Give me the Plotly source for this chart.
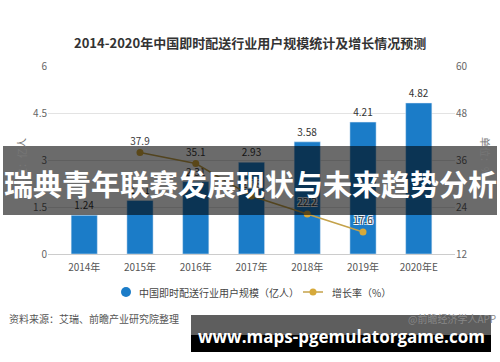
import plotly.graph_objects as go

# ---- data ----
years = ["2014年", "2015年", "2016年", "2017年", "2018年", "2019年", "2020年E"]
users = [1.24, 1.71, 2.31, 2.93, 3.58, 4.21, 4.82]
growth_years = ["2015年", "2016年", "2017年", "2018年", "2019年"]
growth = [37.9, 35.1, 26.8, 22.2, 17.6]
left_ticks = [0, 1.5, 3, 4.5, 6]
left_ticktext = ["0", "1.5", "3", "4.5", "6"]
right_ticks = [12, 24, 36, 48, 60]

title_text = "2014-2020年中国即时配送行业用户规模统计及增长情况预测"
bar_name = "中国即时配送行业用户规模（亿人）"
line_name = "增长率（%）"
source_text = "资料来源：艾瑞、前瞻产业研究院整理"
brand_text = "@前瞻经济学人APP"
overlay_text = "瑞典青年联赛发展现状与未来趋势分析"
url_text = "www.maps-pgemulatorgame.com"

W, H = 500, 362
L, R, T, B = 48, 45, 66, 108
PW, PH = W - L - R, H - T - B

def px(x):
    return (x - L) / PW

def py(y):
    return (H - B - y) / PH

FONT = "Noto Sans CJK SC, Noto Sans, sans-serif"
BAR_COLOR = "#1b7cc8"
LINE_COLOR = "#c4a24a"
MARK_COLOR = "#d6a93a"

fig = go.Figure()
fig.add_trace(go.Bar(
    x=years, y=users, width=0.47, marker_color=BAR_COLOR,
    text=[f"{v:.2f}" for v in users], textposition="outside",
    textfont=dict(size=10, color="#333333", family=FONT),
    cliponaxis=False, showlegend=False, hoverinfo="skip",
))
fig.add_trace(go.Scatter(
    x=growth_years, y=growth, yaxis="y2", mode="lines+markers+text",
    name=line_name, text=[f"{v:.1f}" for v in growth], textposition="top center",
    textfont=dict(size=10, color="#3a3a3a", family=FONT,
                  shadow="1px 1px 0 #fff, -1px -1px 0 #fff, 1px -1px 0 #fff, -1px 1px 0 #fff"),
    line=dict(color=LINE_COLOR, width=1.5),
    marker=dict(size=7, color=MARK_COLOR),
    cliponaxis=False, showlegend=False,
))

fig.update_layout(
    width=W, height=H, margin=dict(l=L, r=R, t=T, b=B),
    paper_bgcolor="white", plot_bgcolor="white",
    font=dict(family=FONT, size=10, color="#555555"),
    showlegend=False,
    xaxis=dict(type="category", range=[-0.65, 6.65], showgrid=False,
               showline=True, linecolor="#cccccc", linewidth=1, ticks="",
               ticklabelstandoff=4,
               tickfont=dict(size=10, color="#555555")),
    yaxis=dict(range=[0, 6], tickvals=left_ticks, ticktext=left_ticktext,
               showgrid=True, gridcolor="#e3e3e3", zeroline=False, ticks="",
               tickfont=dict(size=10, color="#666666")),
    yaxis2=dict(range=[12, 60], tickvals=right_ticks, overlaying="y", side="right",
                showgrid=False, zeroline=False, ticks="",
                tickfont=dict(size=10, color="#666666")),
)

def note(x, y, text, size=10, color="#555555", xa="center", ya="middle", angle=0, family=FONT):
    return dict(x=px(x), y=py(y), xref="paper", yref="paper", text=text,
                xanchor=xa, yanchor=ya, textangle=angle, showarrow=False,
                font=dict(size=size, color=color, family=family))

ann = [
    note(250, 42, f"<b>{title_text}</b>", 13, "#333333"),
    note(21, 163, "单位：亿人", 10, "#777777", angle=-90),
    note(486, 157, "单位：%", 10, "#777777", angle=90),
    note(7, 318, source_text, 10, "#555555", xa="left"),
    note(498, 318, brand_text, 10, "#888888", xa="right"),
    # legend
    note(137, 292, bar_name, 10, "#444444", xa="left"),
    note(330, 292, line_name, 10, "#444444", xa="left"),
]

shapes = [
    # legend symbols
    dict(type="circle", xref="paper", yref="paper", x0=px(121), x1=px(131), y0=py(297), y1=py(287),
         fillcolor=BAR_COLOR, line=dict(width=0)),
    dict(type="line", xref="paper", yref="paper", x0=px(303), x1=px(323), y0=py(292), y1=py(292),
         line=dict(color=LINE_COLOR, width=1.5)),
    dict(type="circle", xref="paper", yref="paper", x0=px(309.5), x1=px(316.5), y0=py(295.5), y1=py(288.5),
         fillcolor=MARK_COLOR, line=dict(width=0)),
    # overlays
    dict(type="rect", xref="paper", yref="paper", x0=px(3), x1=px(497), y0=py(215), y1=py(146),
         fillcolor="rgba(0,0,0,0.58)", line=dict(width=0), layer="above"),
    dict(type="rect", xref="paper", yref="paper", x0=px(191), x1=px(491), y0=py(335), y1=py(315),
         fillcolor="rgba(0,0,0,0.63)", line=dict(width=0), layer="above"),
    dict(type="rect", xref="paper", yref="paper", x0=px(191), x1=px(491), y0=py(352), y1=py(335),
         fillcolor="#000000", line=dict(width=0), layer="above"),
]
ann.append(note(250, 183, f"<b>{overlay_text}</b>", 29, "white"))
ann.append(note(341, 336, f"<b>{url_text}</b>", 17, "white", family="Open Sans, sans-serif"))

fig.update_layout(annotations=ann, shapes=shapes)
fig.write_html("out.html", config={"displayModeBar": False},
               post_script="document.body.style.margin='0px';")
